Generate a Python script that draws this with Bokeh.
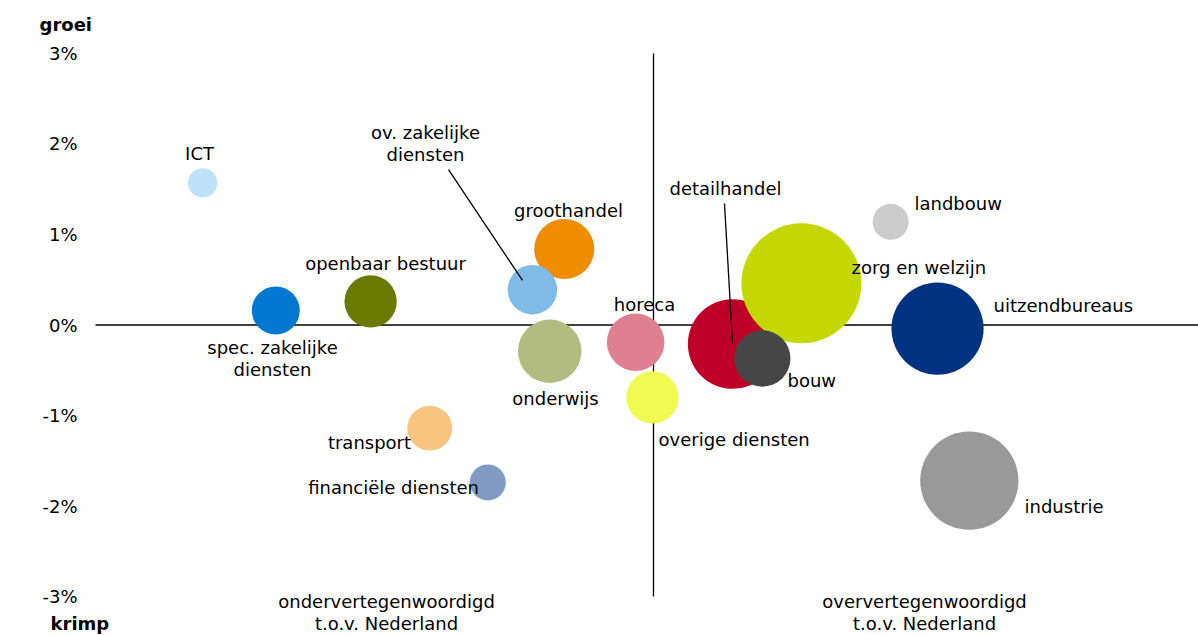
from bokeh.plotting import figure
from bokeh.models import Range1d, FixedTicker, NumeralTickFormatter, ColumnDataSource
from bokeh.core.properties import value
from bokeh.embed import file_html
from bokeh.resources import INLINE
import math

# ---- data -------------------------------------------------------------
sectors = ["ICT", "spec. zakelijke diensten", "openbaar bestuur", "groothandel",
           "ov. zakelijke diensten", "onderwijs", "horeca", "overige diensten",
           "transport", "financiële diensten", "detailhandel", "zorg en welzijn",
           "bouw", "landbouw", "uitzendbureaus", "industrie"]
# relative representation versus Nederland (1 = equal)
vertegenwoordiging = [0.192, 0.323, 0.493, 0.840, 0.783, 0.814, 0.968, 0.998,
                      0.599, 0.703, 1.142, 1.265, 1.195, 1.425, 1.509, 1.566]
# employment growth
groei = [0.0157, 0.0016, 0.0026, 0.0084, 0.0039, -0.0029, -0.0019, -0.0080,
         -0.0114, -0.0174, -0.0021, 0.0046, -0.0037, 0.0114, -0.0004, -0.0172]
# size of sector (relative employment)
omvang = [6, 16, 19, 25, 17, 28, 23, 19, 14, 9, 56, 100, 22, 9, 59, 67]
kleuren = ["#BEE2FA", "#0078D2", "#687A00", "#F08C00", "#80BBE8", "#B2BC80",
           "#DE8092", "#F0FA50", "#F8C580", "#809AC2", "#BE0028", "#C4D800",
           "#464646", "#CCCCCC", "#003282", "#999999"]
y_ticks = [-0.03, -0.02, -0.01, 0.0, 0.01, 0.02, 0.03]
x_referentie = 1.0

# ---- label layout (data coords) --------------------------------------
label_text = ["ICT", "ov. zakelijke\ndiensten", "groothandel", "openbaar bestuur",
              "spec. zakelijke\ndiensten", "horeca", "onderwijs", "transport",
              "financiële diensten", "detailhandel", "landbouw", "zorg en welzijn",
              "uitzendbureaus", "bouw", "overige diensten", "industrie",
              "ondervertegenwoordigd\nt.o.v. Nederland",
              "oververtegenwoordigd\nt.o.v. Nederland"]
label_x = [0.1864, 0.5914, 0.8477, 0.5197, 0.3172, 0.9839, 0.8244, 0.4910,
           0.5341, 1.1290, 1.4677, 1.3548, 1.6093, 1.2401, 1.0090, 1.6649,
           0.5215, 1.4857]
label_y = [0.01895, 0.02127, 0.01265, 0.00680, -0.00249, 0.00227, -0.00812,
           -0.01298, -0.01796, 0.01508, 0.01343, 0.00635, 0.00215, -0.00613,
           -0.01265, -0.02001, -0.03055, -0.03055]
label_align = ["center", "center", "center", "center", "center", "center",
               "center", "center", "center", "center", "left", "left", "left",
               "left", "left", "left", "center", "center"]
LINE_STEP = 0.00245

leader_x0 = [0.6326, 1.1272]
leader_y0 = [0.01718, 0.01343]
leader_x1 = [0.7652, 1.1416]
leader_y1 = [0.00492, -0.00204]

as_titels = ["groei", "krimp"]
as_titel_x = [-0.1004, -0.0806]
as_titel_y = [0.03315, -0.03298]

FONT = "DejaVu Sans"
X_START, X_END = -0.1703, 1.9767
Y_START, Y_END = -0.034309, 0.035856

p = figure(width=1198, height=635, output_backend="svg", toolbar_location=None,
           x_range=Range1d(X_START, X_END), y_range=Range1d(Y_START, Y_END),
           x_axis_location=None, min_border_left=0, min_border_right=0,
           min_border_top=0, min_border_bottom=0)
p.outline_line_color = None
p.grid.visible = False
p.background_fill_color = "white"
p.border_fill_color = "white"

ax = p.yaxis[0]
ax.fixed_location = 0
ax.ticker = FixedTicker(ticks=y_ticks)
ax.formatter = NumeralTickFormatter(format="0%")
ax.axis_line_color = None
ax.major_tick_line_color = None
ax.minor_tick_line_color = None
ax.major_tick_out = 0
ax.major_tick_in = 0
ax.major_label_standoff = 18
ax.major_label_text_font = FONT
ax.major_label_text_font_size = "18px"
ax.major_label_text_color = "#000000"

# reference lines
p.segment(x0=[0], y0=[0], x1=[X_END], y1=[0], line_color="#000000", line_width=1.3)
p.segment(x0=[x_referentie], y0=[min(y_ticks)], x1=[x_referentie], y1=[max(y_ticks)],
          line_color="#000000", line_width=1.3)

# bubbles
src = ColumnDataSource(dict(x=vertegenwoordiging, y=groei,
                            d=[12 * math.sqrt(v) for v in omvang],
                            c=kleuren, n=sectors))
p.scatter("x", "y", size="d", fill_color="c", line_color=None, source=src)

# leader lines
p.segment(x0=leader_x0, y0=leader_y0, x1=leader_x1, y1=leader_y1,
          line_color="#000000", line_width=1.3)

# labels
tx, ty, tt, ta = [], [], [], []
for t, x, y, a in zip(label_text, label_x, label_y, label_align):
    for i, line in enumerate(t.split("\n")):
        tx.append(x)
        ty.append(y - i * LINE_STEP)
        tt.append(line)
        ta.append(a)
p.text(x=tx, y=ty, text=tt, text_align=ta, text_baseline="middle",
       text_font=value(FONT), text_font_size="18px", text_color="#000000")

# axis titles
p.text(x=as_titel_x, y=as_titel_y, text=as_titels, text_align="left",
       text_baseline="middle", text_font=value(FONT), text_font_size="18px",
       text_font_style="bold", text_color="#000000")

open("out.html", "w").write(file_html(p, INLINE))
